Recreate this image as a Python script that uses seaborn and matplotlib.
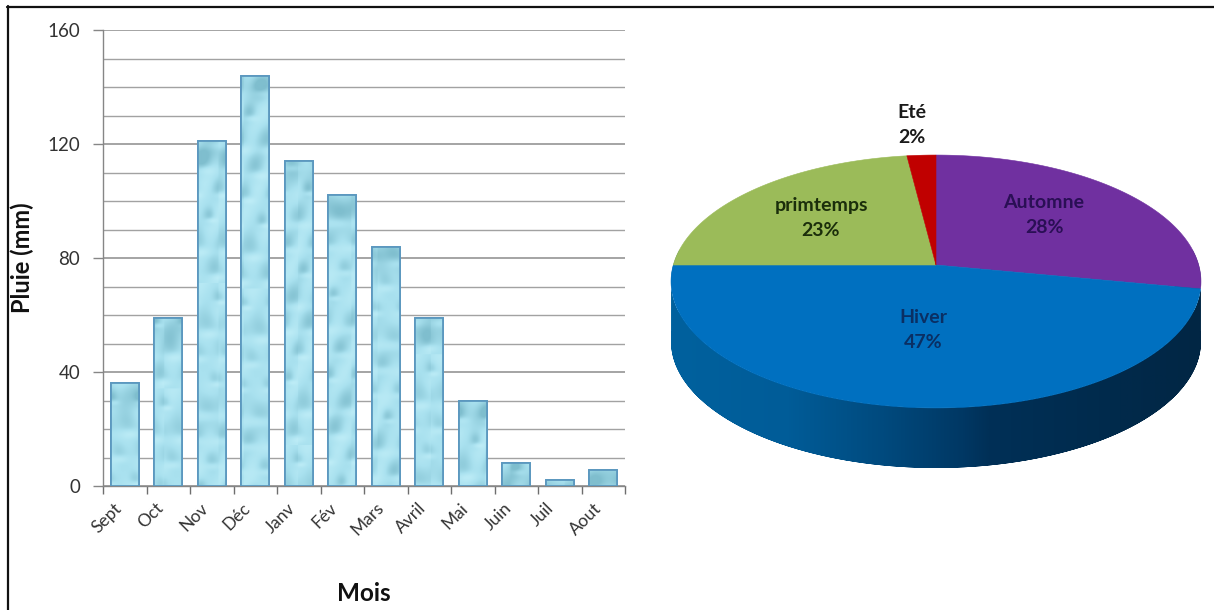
import numpy as np
import matplotlib
matplotlib.use("Agg")
import matplotlib.pyplot as plt
from matplotlib.colors import LinearSegmentedColormap
from matplotlib.lines import Line2D
from matplotlib.patches import PathPatch
from matplotlib.path import Path
from matplotlib.ticker import MultipleLocator
from matplotlib.transforms import Affine2D, ScaledTranslation, Transform
import seaborn as sns

# Monthly rainfall (mm)
months = ["Sept", "Oct", "Nov", "Déc", "Janv", "Fév", "Mars", "Avril", "Mai", "Juin", "Juil", "Aout"]
rain_mm = [36, 59, 121, 144, 114, 102, 84, 59, 30, 8, 2, 5.5]

# Seasonal share of the annual rainfall (%), clockwise from 12 o'clock
seasons = ["Automne", "Hiver", "primtemps", "Eté"]
season_pct = [28, 47, 23, 2]
season_colors = ["#7030A0", "#0070C0", "#9BBB59", "#C00000"]
label_colors = ["#2A0F55", "#0A2F63", "#1B2E0B", "#1A1A1A"]
label_xy = [(1044, 215), (923, 330), (821, 218), (912, 125)]

W, H = 1214, 610
sns.set_theme(style="white")
plt.rcParams["font.family"] = ["Lato", "DejaVu Sans"]
fig = plt.figure(figsize=(W / 100, H / 100), dpi=100, facecolor="white")


def frac_box(x0, y0, x1, y1):
    """Figure-fraction axes box from pixel edges measured from the top left."""
    return [x0 / W, 1 - y1 / H, (x1 - x0) / W, (y1 - y0) / H]


def drop_tile(w=30, h=460):
    """Water-drop pattern in pixel units: dark bodies with a bright rim, on pale blue."""
    yy, xx = np.mgrid[0:h, 0:w]
    tex = 0.62 + 0.10 * np.sin(2 * np.pi * (xx / 38 + yy / 61))
    for j in range(17):
        cy = (j + 0.5) * 27
        cx = (0.618 * j % 1) * w
        r = 6 + (j * 5 % 7)
        for dx in (-w, 0, w):
            d = ((xx - cx - dx) / r) ** 2 + ((yy - cy) / (1.25 * r)) ** 2
            tex -= 0.42 * np.exp(-d)
            rim = ((xx - cx - dx - 2) / r) ** 2 + ((yy - cy - 0.9 * r) / (0.45 * r)) ** 2
            tex += 0.30 * np.exp(-rim)
    return tex


drop_cmap = LinearSegmentedColormap.from_list("drops", ["#7FBECE", "#A9E1EF", "#C9F3FB"])

# ---- Bar chart ----
ax = fig.add_axes(frac_box(103, 30, 625, 486))
sns.barplot(x=months, y=rain_mm, ax=ax, width=0.64, color="#A8E2F2",
            edgecolor="#5B98BF", linewidth=1.3, saturation=1, zorder=3)
ax.set_xlim(-0.5, 11.5)
ax.set_ylim(0, 160)
ax.yaxis.set_major_locator(MultipleLocator(40))
ax.yaxis.set_minor_locator(MultipleLocator(10))
ax.set_xticks(np.arange(-0.5, 12), minor=True)
ax.set_xticks(np.arange(12), months)
ax.grid(True, axis="y", which="major", color="#8C8C8C", linewidth=1.1, zorder=0)
ax.grid(True, axis="y", which="minor", color="#A2A2A2", linewidth=1.0, zorder=0)
ax.set_axisbelow(True)
for side in ("top", "right"):
    ax.spines[side].set_visible(False)
for side in ("left", "bottom"):
    ax.spines[side].set_color("#868686")
    ax.spines[side].set_linewidth(1.0)
ax.tick_params(axis="y", which="major", left=True, length=7.5, width=1, color="#868686",
               labelsize=13.5, labelcolor="#333333", pad=9)
ax.tick_params(axis="y", which="minor", left=False)
ax.tick_params(axis="x", which="minor", bottom=True, length=6, width=1, color="#6E6E6E")
ax.tick_params(axis="x", which="major", bottom=False, labelsize=12.5, labelcolor="#333333", pad=4)
shift = ScaledTranslation(-18 / 100, 0, fig.dpi_scale_trans)
for lab in ax.get_xticklabels():
    lab.set_rotation(45)
    lab.set_ha("center")
    lab.set_va("top")
    lab.set_transform(lab.get_transform() + shift)
ax.set_xlabel("Mois", fontsize=17.5, fontweight="bold", color="#111111")
ax.xaxis.set_label_coords(0.5, -0.21)
ax.set_ylabel("Pluie (mm)", fontsize=17, fontweight="bold", color="#111111")
ax.yaxis.set_label_coords(-0.132, 0.5)

tile = drop_tile()
px_per_mm = 456 / 160
for i, bar in enumerate(list(ax.patches)):
    x0, y0, bw, bh = bar.get_bbox().bounds
    rows = max(int(round(bh * px_per_mm)), 2)
    cut = np.roll(np.roll(tile, i * 11, axis=1), i * 71, axis=0)[:rows].copy()
    # Teal glow under the top edge of each bar
    row_idx = np.arange(rows)[:, None]
    cut -= 0.30 * np.exp(-((row_idx - 12) / 14.0) ** 2)
    im = ax.imshow(np.clip(cut, 0, 1), extent=(x0, x0 + bw, y0, y0 + bh), origin="upper", aspect="auto",
                   cmap=drop_cmap, vmin=0, vmax=1, zorder=3.5, interpolation="bilinear")
    im.set_clip_path(bar)
    ax.add_patch(PathPatch(bar.get_path(), transform=bar.get_transform(), fill=False,
                           edgecolor="#5B98BF", linewidth=1.3, zorder=3.6))
ax.set_xlim(-0.5, 11.5)
ax.set_ylim(0, 160)
ax.set_aspect("auto")


# ---- Tilted pie ----
class Tilt(Transform):
    """Perspective view of the unit disc: the near side is drawn larger."""
    input_dims = output_dims = 2

    def __init__(self, k):
        super().__init__()
        self.k = k

    def transform_non_affine(self, values):
        values = np.asarray(values, float)
        w = 1 + self.k * values[:, 1]
        return np.column_stack([values[:, 0] / w, values[:, 1] / w])

    def transform_path_non_affine(self, path):
        return Path(self.transform_non_affine(path.vertices), path.codes)


pie_ax = fig.add_axes([0, 0, 1, 1], facecolor="none")
wedges, _ = pie_ax.pie(season_pct, colors=season_colors, startangle=90, counterclock=False,
                       wedgeprops={"linewidth": 0})
pie_ax.set_xlim(0, W)
pie_ax.set_ylim(H, 0)
pie_ax.set_aspect("auto")
pie_ax.axis("off")

k, rx, ry = 0.1304, 262.7, 124.3
cx, cy, depth = 936, 265, 60
tilt = Tilt(k)
place = Affine2D().scale(rx, -ry).translate(cx, cy) + pie_ax.transData
for wedge in wedges:
    # Flatten each wedge into fine line segments so the perspective stays exact
    t = np.linspace(wedge.theta1, wedge.theta2, 240)
    rim = np.column_stack([np.cos(np.radians(t)), np.sin(np.radians(t))])
    pts = np.vstack([[0, 0], rim, [0, 0]])
    wedge.set_visible(False)
    pie_ax.add_patch(PathPatch(Path(pts), transform=tilt + place,
                               facecolor=wedge.get_facecolor(), edgecolor=wedge.get_facecolor(),
                               linewidth=0.4, zorder=3))

# Side wall, shaded from left to right, clipped to the rim of the disc
c0 = -k
s0 = np.sqrt(1 - k ** 2)
side_t = np.linspace(np.arctan2(c0, s0), np.arctan2(c0, -s0) - 2 * np.pi, 300)
rim = tilt.transform_non_affine(np.column_stack([np.cos(side_t), np.sin(side_t)]))
rim_px = np.column_stack([cx + rx * rim[:, 0], cy - ry * rim[:, 1]])
wall = np.vstack([rim_px, (rim_px + [0, depth])[::-1]])
wall_cmap = LinearSegmentedColormap.from_list(
    "wall", [(0, "#00619E"), (0.22, "#005C98"), (0.40, "#004A7E"), (0.55, "#003864"),
             (0.60, "#003057"), (0.85, "#012A4B"), (1, "#012644")])
grad = pie_ax.imshow(np.linspace(0, 1, 512)[None, :], extent=(rim_px[:, 0].min(), rim_px[:, 0].max(), 500, 250),
                     aspect="auto", cmap=wall_cmap, zorder=2)
grad.set_clip_path(PathPatch(Path(wall), transform=pie_ax.transData))
pie_ax.set_xlim(0, W)
pie_ax.set_ylim(H, 0)
pie_ax.set_aspect("auto")

for name, pct, color, (lx, ly) in zip(seasons, season_pct, label_colors, label_xy):
    pie_ax.text(lx, ly, f"{name}\n{pct}%", ha="center", va="center", fontsize=14, fontweight="bold",
                color=color, linespacing=1.55, zorder=5)

# Dark rule along the top and left edges of the sheet
fig.add_artist(Line2D([7.5 / W, 7.5 / W], [0, 1 - 6 / H], color="#111111", linewidth=1.6))
fig.add_artist(Line2D([7 / W, 1], [1 - 6.5 / H, 1 - 6.5 / H], color="#111111", linewidth=1.6))

fig.savefig("out.png", dpi=100, facecolor="white")
